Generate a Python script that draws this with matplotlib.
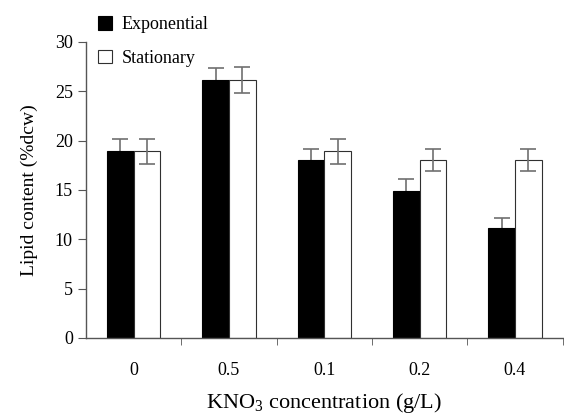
import numpy as np
import matplotlib
matplotlib.use("Agg")
import matplotlib.pyplot as plt

plt.rcParams['font.family'] = ['Liberation Serif', 'DejaVu Serif']
plt.rcParams['mathtext.fontset'] = 'custom'
plt.rcParams['mathtext.rm'] = 'Liberation Serif'

categories = ['0', '0.5', '0.1', '0.2', '0.4']
exponential = [18.9, 26.1, 18.0, 14.9, 11.1]
exp_err = [1.3, 1.2, 1.1, 1.2, 1.1]
stationary = [18.9, 26.1, 18.9, 18.0, 18.0]
stat_err = [1.3, 1.3, 1.3, 1.1, 1.1]

fig = plt.figure(figsize=(5.64, 4.16), dpi=100)
ax = fig.add_axes([0.1525, 0.1875, 0.845, 0.712])

x = np.arange(len(categories))
w = 0.28
ekw = dict(fmt='none', ecolor='#707070', elinewidth=1.2, capsize=6, capthick=1.2)

# black bars hide the lower half of their error bars
ax.errorbar(x - w / 2, exponential, yerr=exp_err, zorder=1, **ekw)
ax.bar(x - w / 2, exponential, w, color='black', edgecolor='black',
       linewidth=0.8, zorder=2, label='Exponential')
ax.bar(x + w / 2, stationary, w, color='white', edgecolor='#303030',
       linewidth=0.8, zorder=2, label='Stationary')
ax.errorbar(x + w / 2, stationary, yerr=stat_err, zorder=3, **ekw)

ax.set_xlim(-0.5, len(categories) - 0.5)
ax.set_ylim(0, 30)
ax.set_yticks(range(0, 31, 5))
ax.set_xticks(x)
ax.set_xticklabels(categories, fontsize=13)
ax.set_xticks(np.arange(0.5, len(categories), 1), minor=True)
ax.tick_params(axis='x', which='major', length=0, pad=17)
ax.tick_params(axis='x', which='minor', length=5, direction='out', color='#555555')
ax.tick_params(axis='y', labelsize=13, length=6, direction='out', color='#555555')

for s in ['top', 'right']:
    ax.spines[s].set_visible(False)
for s in ['left', 'bottom']:
    ax.spines[s].set_color('#555555')
    ax.spines[s].set_linewidth(1.0)

ax.set_ylabel('Lipid content (%dcw)', fontsize=14, labelpad=12)
ax.set_xlabel(r'KNO$_3$ concentration (g/L)', fontsize=16, labelpad=9)

fig.legend(loc='upper left', bbox_to_anchor=(0.145, 1.0), frameon=False,
           fontsize=13, handlelength=0.8, handleheight=0.8,
           handletextpad=0.5, labelspacing=0.9)

fig.savefig('out.png', dpi=100)
